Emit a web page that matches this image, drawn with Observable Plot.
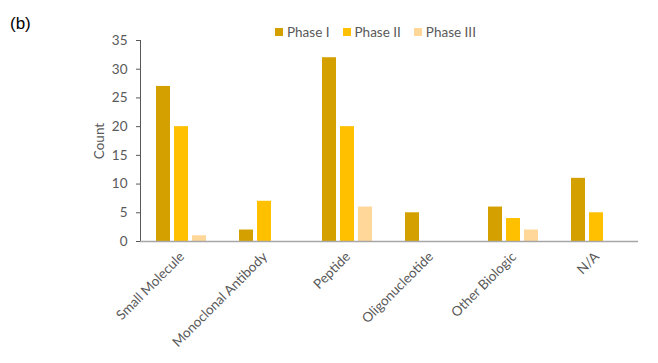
<!DOCTYPE html>
<html><head><meta charset="utf-8">
<script src="https://cdn.jsdelivr.net/npm/d3@7"></script>
<script src="https://cdn.jsdelivr.net/npm/@observablehq/plot@0.6"></script>
<style>
body{margin:0;background:#fff;}
#wrap{position:relative;width:658px;height:363px;font-family:Lato,sans-serif;}
#tag{position:absolute;left:10px;top:14px;font:17px "Liberation Sans",Arial,sans-serif;color:#000;}
#legend{position:absolute;left:275px;top:24px;display:flex;font-size:13.5px;color:#595959;}
.item{display:flex;align-items:center;margin-right:13px;}
.sw{width:8px;height:8px;margin-right:4px;}
</style></head>
<body><div id="wrap"><div id="tag">(b)</div><div id="legend"></div></div>
<script>
const categories = ["Small Molecule","Monoclonal Antibody","Peptide","Oligonucleotide","Other Biologic","N/A"];
const phases = ["Phase I","Phase II","Phase III"];
const phaseI = [27, 2, 32, 5, 6, 11];
const phaseII = [20, 7, 20, 0, 4, 5];
const phaseIII = [1, 0, 6, 0, 2, 0];
const colors = ["#D4A000","#FFC000","#FFD899"];
const yTicks = [0,5,10,15,20,25,30,35];

const series = [phaseI, phaseII, phaseIII];
const data = [];
categories.forEach((c,i)=>phases.forEach((p,j)=>data.push({category:c, phase:p, value:series[j][i]})));

const chart = Plot.plot({
  width: 658, height: 363,
  marginLeft: 140, marginRight: 20, marginTop: 40, marginBottom: 122,
  style: {fontFamily: "Lato, sans-serif", fontSize: "13.5px", color: "#595959", background: "transparent"},
  fx: {domain: categories, padding: 0, label: null, tickRotate: -45, tickSize: 0, tickPadding: 13, axis: "bottom"},
  x: {domain: phases, paddingInner: 0.216, paddingOuter: 0.851, axis: null},
  y: {domain: [0,35], ticks: yTicks, tickSize: 4, tickPadding: 9, label: "Count", labelAnchor: "center", labelOffset: 46, labelArrow: "none", line: true},
  color: {domain: phases, range: colors},
  marks: [
    Plot.barY(data.filter(d=>d.value>0), {fx: "category", x: "phase", y: "value", fill: "phase"}),
    Plot.ruleY([0], {stroke: "#A6A6A6", strokeWidth: 1.5})
  ]
});
chart.style.position = "absolute"; chart.style.left = "0"; chart.style.top = "0";
const wrap = document.getElementById("wrap");
wrap.insertBefore(chart, wrap.firstChild);
d3.select(chart).selectAll("[aria-label='y-axis tick'], [aria-label='frame']").attr("stroke", "#A6A6A6");
d3.select(chart).selectAll("[aria-label='y-axis label'] text").each(function(){
  this.textContent = this.textContent.replace(/[\u2191\u2192\u2193\u2190]/g, "").trim();
});

const leg = document.getElementById("legend");
phases.forEach((p,i)=>{
  const it = document.createElement("div"); it.className = "item";
  it.innerHTML = `<div class="sw" style="background:${colors[i]}"></div><span>${p}</span>`;
  leg.appendChild(it);
});
</script></body></html>
